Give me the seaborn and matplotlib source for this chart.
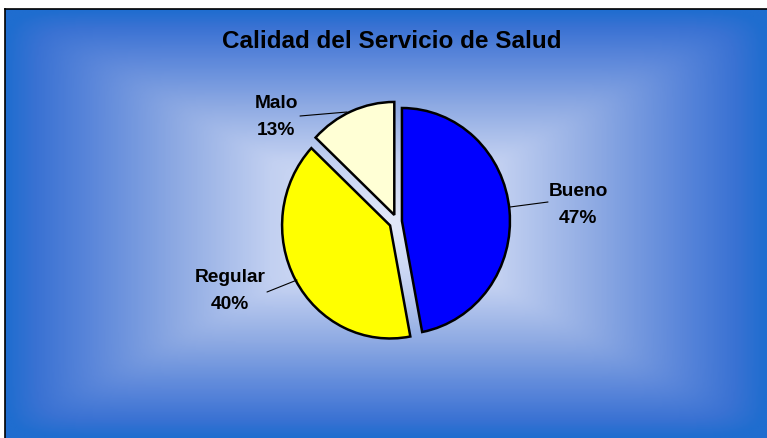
import numpy as np
import matplotlib
matplotlib.use("Agg")
import matplotlib.pyplot as plt
import seaborn as sns
from matplotlib.colors import LinearSegmentedColormap

sns.set_theme(style="white")
plt.rcParams["font.family"] = ["Liberation Sans", "DejaVu Sans"]

categorias = ["Bueno", "Regular", "Malo"]
porcentajes = [47, 40, 13]
colores = ["#0000ff", "#ffff00", "#ffffd5"]
separacion = [0.046, 0.073, 0.063]

W, H = 767, 439
fig = plt.figure(figsize=(W / 100, H / 100), dpi=100)
fig.patch.set_facecolor("white")

# fondo con degradado rectangular desde el centro
bg = fig.add_axes([5 / W, 0, (W - 5) / W, (H - 10) / H])
nx, ny = 400, 240
xx, yy = np.meshgrid(np.linspace(-1, 1, nx), np.linspace(-1, 1, ny))
t = (np.abs(xx) ** 18 + np.abs(yy) ** 18) ** (1 / 18)
t = np.clip(t, 0, 1)
cmap = LinearSegmentedColormap.from_list(
    "fondo", [(0, "#e2e9f9"), (0.3, "#c2d0f1"), (0.55, "#8eaae3"),
              (0.78, "#5a86da"), (0.92, "#3a72d3"), (1, "#1f6dcf")])
bg.imshow(t, cmap=cmap, aspect="auto", extent=[0, 1, 0, 1], interpolation="bilinear")
bg.set_xlim(0, 1)
bg.set_ylim(0, 1)
bg.set_xticks([])
bg.set_yticks([])
for side in ["right", "bottom"]:
    bg.spines[side].set_visible(False)
for side in ["left", "top"]:
    bg.spines[side].set_color("black")
    bg.spines[side].set_linewidth(1.2)

fig.text(392 / W, 1 - 42 / H, "Calidad del Servicio de Salud", ha="center", va="center",
         fontsize=17.5, fontweight="bold", color="black")

# pie: centro ~ (397, 222.5) px, radio ~108 px en x y ~113 px en y
cx, cy, L = 397, 222.5, 1.3
aw, ah = 108 * 2 * L, 113 * 2 * L
ax = fig.add_axes([(cx - aw / 2) / W, 1 - (cy + ah / 2) / H, aw / W, ah / H])
ax.set_facecolor("none")
wedges, _ = ax.pie(porcentajes, colors=colores, startangle=90, counterclock=False,
                   explode=separacion, radius=1.0,
                   wedgeprops={"edgecolor": "black", "linewidth": 1.8})
ax.set_aspect("auto")
ax.set_xlim(-L, L)
ax.set_ylim(-L, L)

# etiquetas con lineas guia (posiciones en pixeles de la figura)
etiquetas = [
    ("Bueno\n47%", (578, 205), (510, 208), (548, 203)),
    ("Regular\n40%", (230, 291), (297, 281), (267, 293)),
    ("Malo\n13%", (276, 117), (347, 113), (300, 117)),
]
for texto, pos, p0, p1 in etiquetas:
    fig.text(pos[0] / W, 1 - pos[1] / H, texto, ha="center", va="center",
             fontsize=13.8, fontweight="bold", color="black", linespacing=1.8)
    fig.add_artist(plt.Line2D([p0[0] / W, p1[0] / W], [1 - p0[1] / H, 1 - p1[1] / H],
                              color="black", linewidth=0.8))

fig.savefig("out.png", dpi=100)
